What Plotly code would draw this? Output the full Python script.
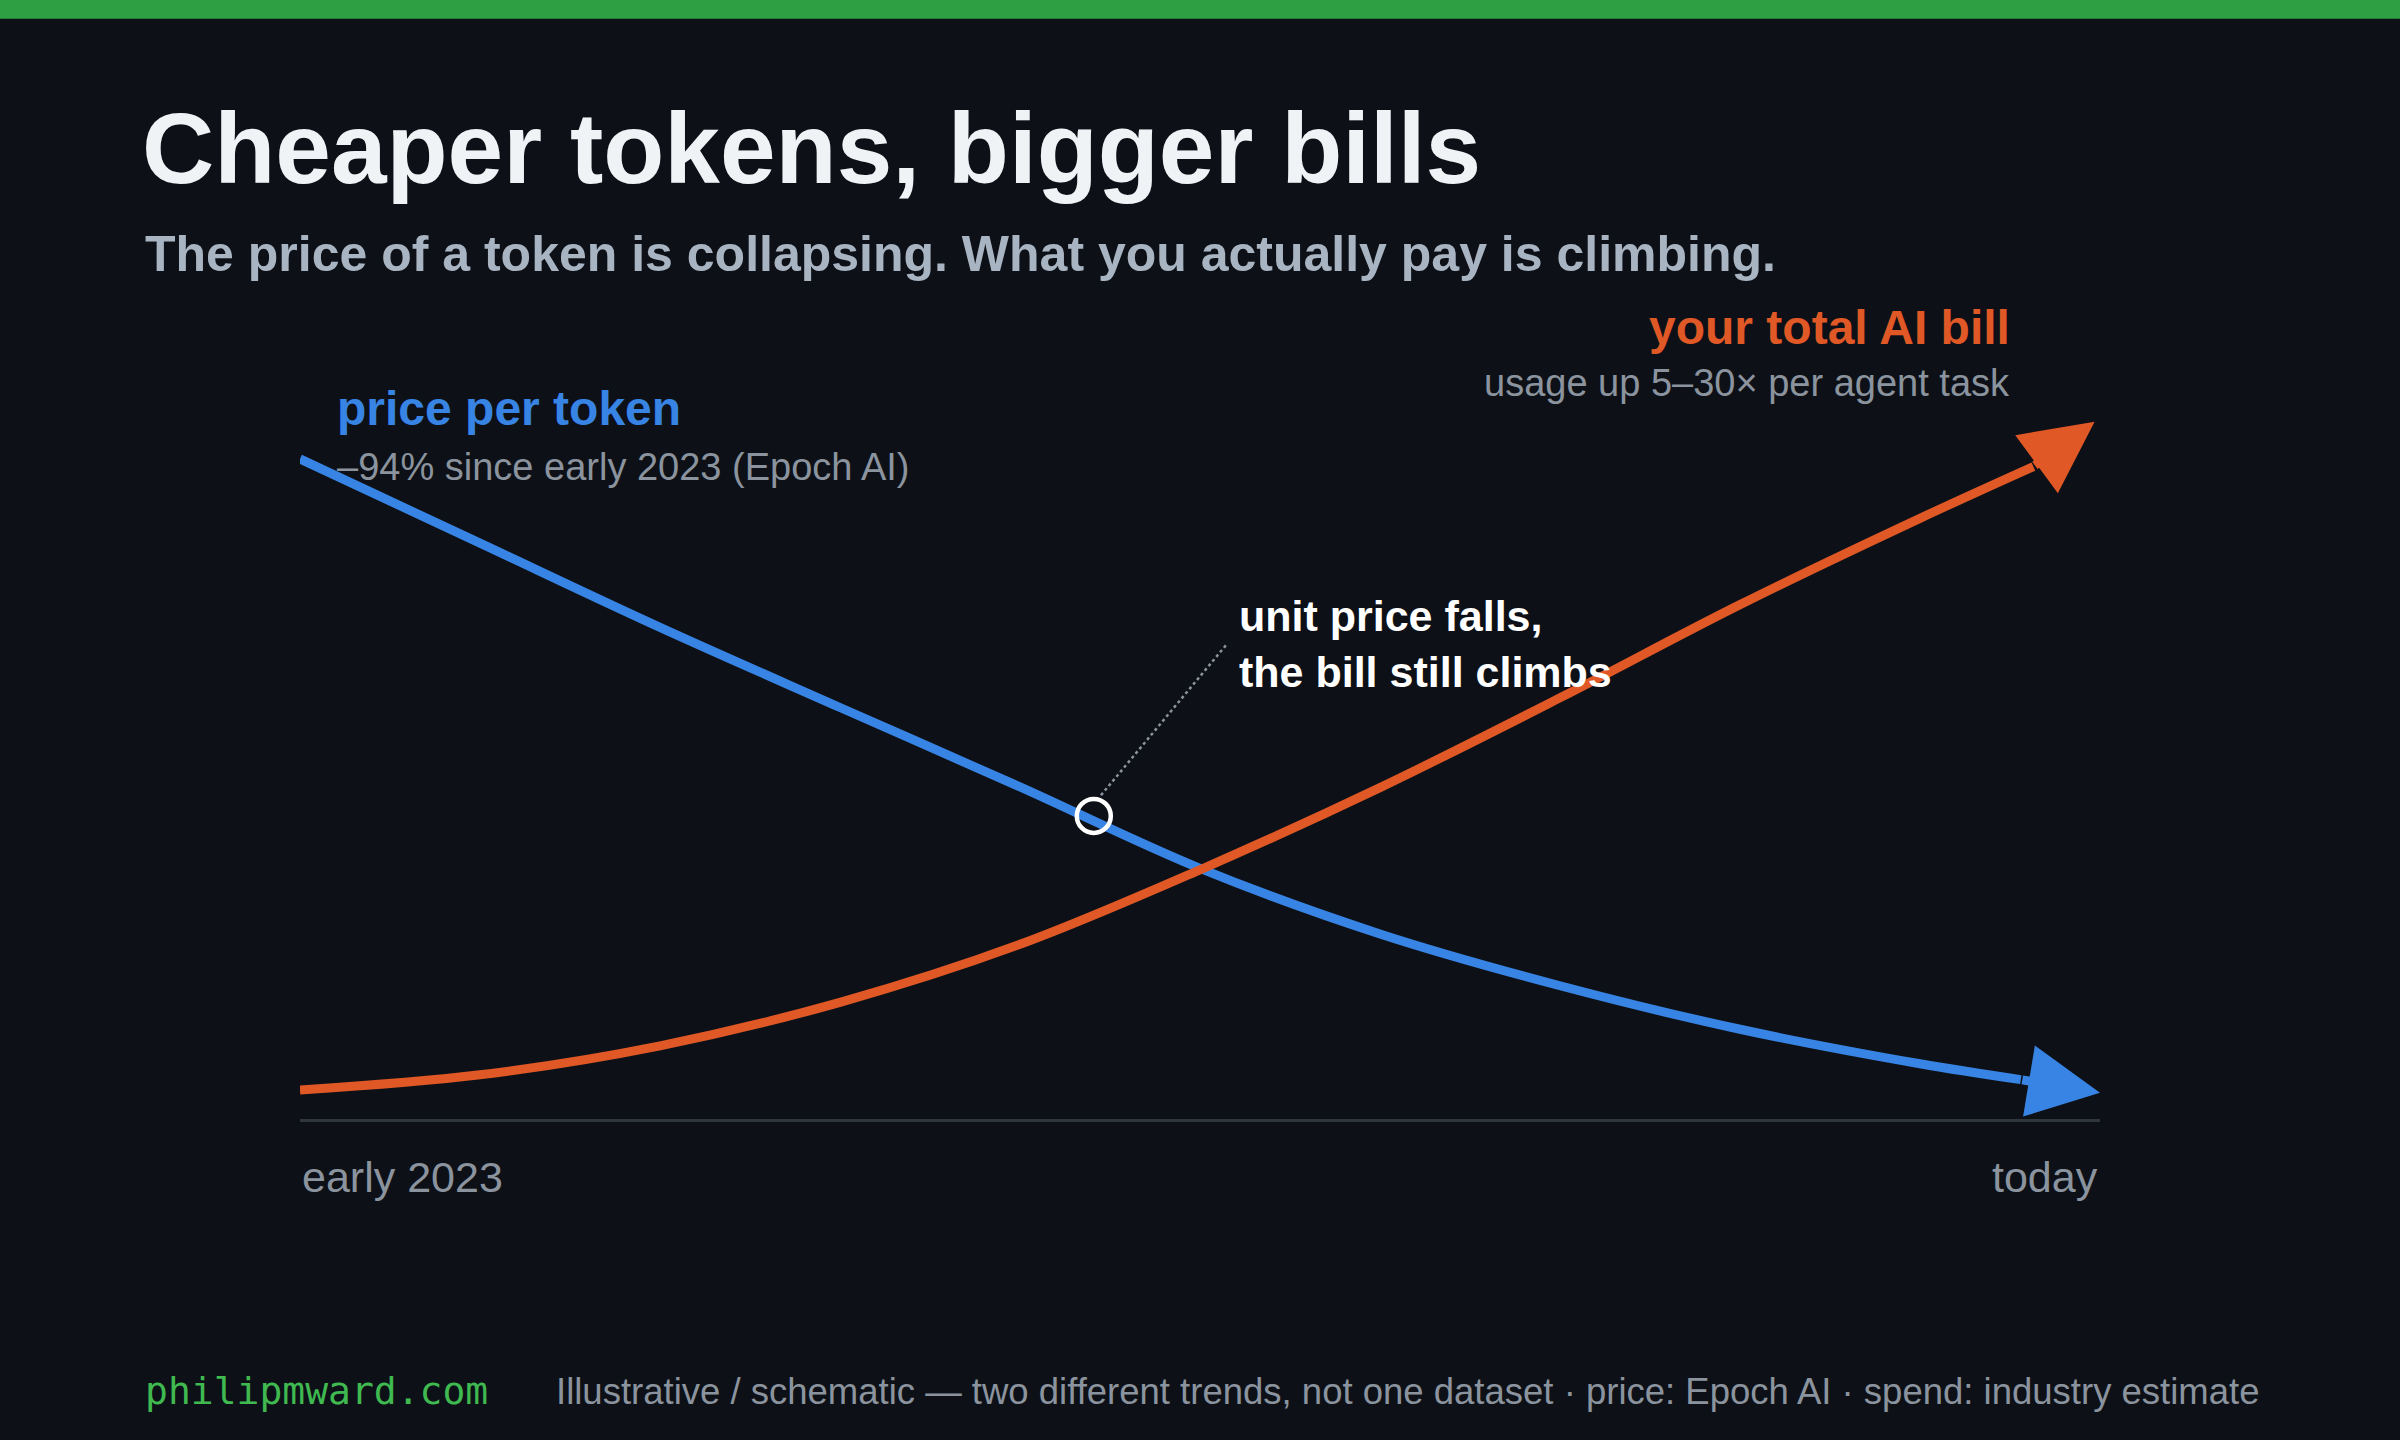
import plotly.graph_objects as go

# ---- data (schematic) ----
x_vals = [0, 0.1, 0.2, 0.3, 0.4, 0.5, 0.6, 0.7, 0.8, 0.9, 0.956]
price_per_token = [0.956, 0.834, 0.712, 0.596, 0.481, 0.363, 0.268, 0.193, 0.13, 0.08, 0.057]
x_bill = [0, 0.1, 0.2, 0.3, 0.4, 0.5, 0.6, 0.7, 0.8, 0.9, 0.963]
total_bill = [0.042, 0.064, 0.106, 0.169, 0.253, 0.361, 0.48, 0.61, 0.745, 0.87, 0.945]
price_tip = [1.0, 0.038]
bill_tip = [0.997, 1.01]
highlight = [0.441, 0.439]
x_tick_labels = ["early 2023", "today"]

BG = "#0d1117"
BLUE = "#3884e4"
ORANGE = "#df5826"
GREY = "#8b949e"
FONT = "Liberation Sans"

fig = go.Figure()
fig.add_trace(go.Scatter(x=x_vals, y=price_per_token, mode="lines",
                         line=dict(color=BLUE, width=9, shape="spline"), hoverinfo="skip"))
fig.add_trace(go.Scatter(x=x_bill, y=total_bill, mode="lines",
                         line=dict(color=ORANGE, width=9, shape="spline"), hoverinfo="skip"))
fig.add_trace(go.Scatter(x=[highlight[0]], y=[highlight[1]], mode="markers",
                         marker=dict(size=34, color="rgba(0,0,0,0)", line=dict(color="white", width=4.5)),
                         hoverinfo="skip", cliponaxis=False))

ann = []
for (xs, ys, tip, col) in [(x_vals, price_per_token, price_tip, BLUE), (x_bill, total_bill, bill_tip, ORANGE)]:
    ann.append(dict(x=tip[0], y=tip[1], ax=xs[-1], ay=ys[-1],
                    xref="x", yref="y", axref="x", ayref="y", text="", showarrow=True,
                    arrowhead=2, arrowsize=1.6, arrowwidth=9, arrowcolor=col, standoff=0))

def t(text, x, y, size, color, bold=False, xanchor="left", family=FONT):
    ann.append(dict(text=f"<b>{text}</b>" if bold else text, x=x, y=y, xref="paper", yref="paper",
                    xanchor=xanchor, yanchor="middle", showarrow=False, align=xanchor,
                    font=dict(size=size, color=color, family=family)))

t("Cheaper tokens, bigger bills", 0.0585, 0.897, 100, "#f0f3f6", True)
t("The price of a token is collapsing. What you actually pay is climbing.", 0.0595, 0.8236, 50, "#a9b4c2", True)
t("price per token", 0.1395, 0.7163, 48, BLUE, True)
t("–94% since early 2023 (Epoch AI)", 0.1395, 0.676, 38, GREY)
t("your total AI bill", 0.8385, 0.7726, 48, ORANGE, True, "right")
t("usage up 5–30× per agent task", 0.8385, 0.7343, 38, GREY, False, "right")
t(x_tick_labels[0], 0.125, 0.1828, 43, GREY)
t(x_tick_labels[1], 0.875, 0.1828, 43, GREY, False, "right")
t("unit price falls,<br>the bill still climbs", 0.5155, 0.5526, 43, "white", True)
t("philipmward.com", 0.0595, 0.034, 38, "#3fb950", False, "left", "DejaVu Sans Mono")
t("Illustrative / schematic — two different trends, not one dataset · price: Epoch AI · spend: industry estimate",
  0.2309, 0.034, 36.5, GREY)

fig.update_layout(
    width=2400, height=1440, margin=dict(l=0, r=0, t=0, b=0),
    paper_bgcolor=BG, plot_bgcolor=BG, showlegend=False, annotations=ann,
    xaxis=dict(domain=[0.125, 0.875], range=[0, 1], showgrid=False, zeroline=False,
               showticklabels=False, showline=True, linecolor="#30363d", linewidth=3),
    yaxis=dict(domain=[0.2229, 0.7024], range=[0, 1], showgrid=False, zeroline=False,
               showticklabels=False, showline=False),
    shapes=[
        dict(type="rect", xref="paper", yref="paper", x0=0, x1=1, y0=0.987, y1=1.0,
             fillcolor="#2ea043", line=dict(width=0)),
        dict(type="line", xref="x", yref="y", x0=highlight[0] + 0.004, y0=highlight[1] + 0.03,
             x1=0.515, y1=0.688, line=dict(color="#8b949e", width=2.5, dash="dot")),
    ],
)
fig.write_html("out.html", config={"displayModeBar": False},
               post_script="document.body.style.margin='0';document.body.style.background='#0d1117';")
